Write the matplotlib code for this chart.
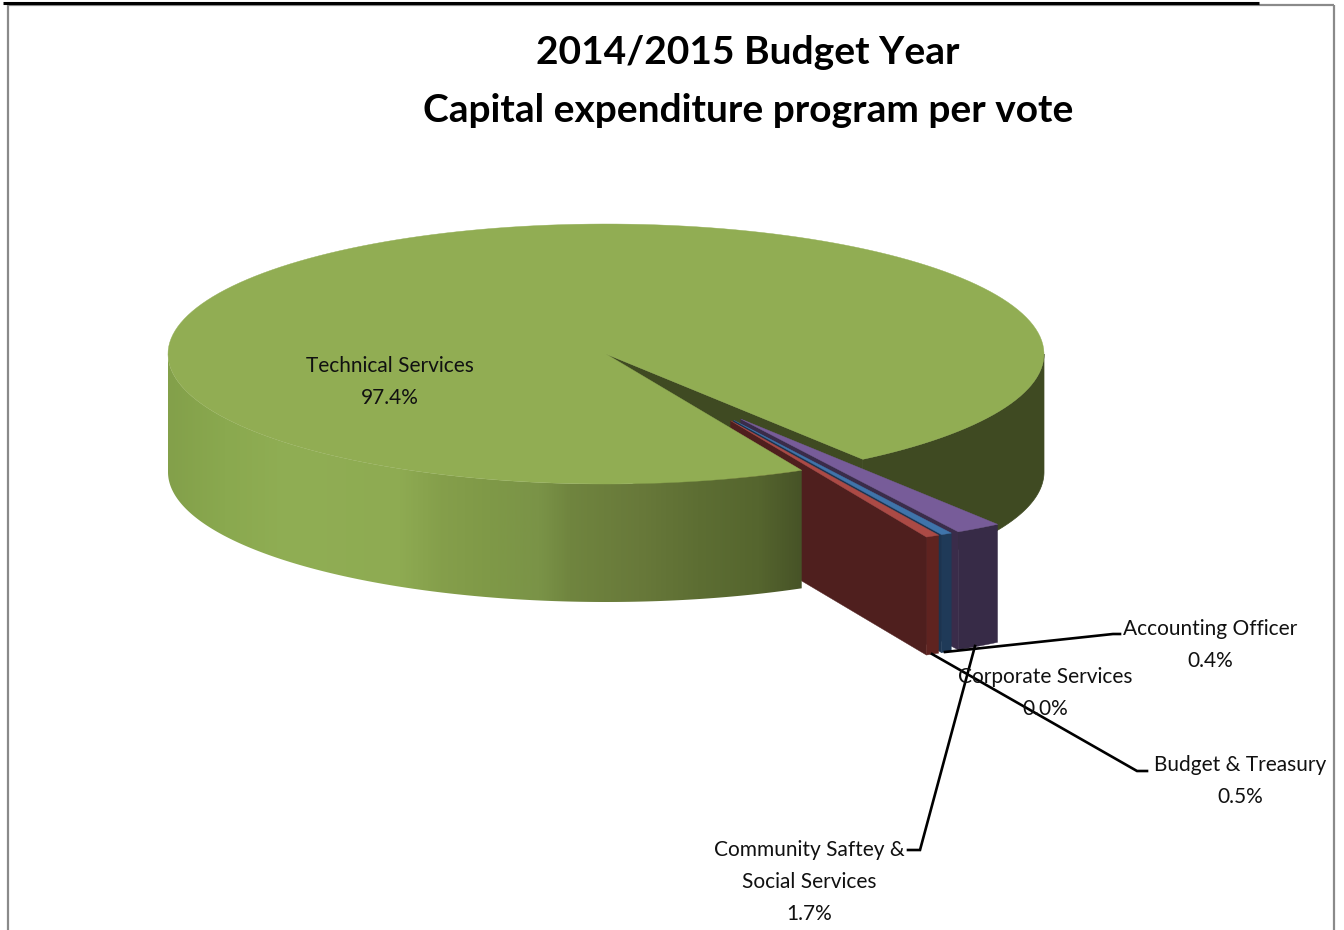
import matplotlib
matplotlib.use('Agg')
import matplotlib.pyplot as plt
import numpy as np
from matplotlib.colors import LinearSegmentedColormap
from matplotlib.patches import Polygon

plt.rcParams['font.family'] = ['Lato', 'DejaVu Sans']

# clockwise from the top edge of the notch
names = ['Community Saftey &\nSocial Services', 'Corporate Services', 'Accounting Officer',
         'Budget & Treasury', 'Technical Services']
shares = [1.7, 0.0, 0.4, 0.5, 97.4]
top_colors = ['#775c99', '#4a7ebb', '#3f74aa', '#ab4a45', '#91ad53']
rim_colors = ['#372b47', '#1f3a58', '#1f3a58', '#5f2320', '#3f4a22']
wall_colors = ['#3a2c4a', '#1c3450', '#1c3450', '#4f1f1e', '#3f4a22']

label_pos = [(809, 881), (1045, 692), (1210, 644), (1240, 780), (390, 381)]

title_lines = ['2014/2015 Budget Year', 'Capital expenditure program per vote']

# shading along the front of the big slice
rim_x = [168, 225, 290, 400, 440, 490, 540, 570, 640, 700, 760, 802]
rim_shades = ['#83a04a', '#8aa94f', '#90ae54', '#8eab52', '#859f4b', '#7f9947',
              '#7a9347', '#70853f', '#68793a', '#5d6e33', '#55652e', '#475327']

cx, cy = 606, 354
rx, ry = 438, 130
depth = 118
start_angle = -54.1
explode = 0.587


def project(angle, radius=1.0, ox=0.0, oy=0.0):
    a = np.deg2rad(angle)
    return cx + ox + rx * radius * np.cos(a), cy + oy - ry * radius * np.sin(a)


def arc(a0, a1, ox=0.0, oy=0.0, drop=0):
    t = np.linspace(a0, a1, 200)
    x, y = project(t, 1.0, ox, oy)
    return np.column_stack([x, y + drop])


def side_band(a0, a1, ox=0.0, oy=0.0):
    return np.vstack([arc(a0, a1, ox, oy), arc(a1, a0, ox, oy, depth)])


fig = plt.figure(figsize=(13.44, 9.30), dpi=100)
ax = fig.add_axes([0, 0, 1, 1])

# page frame
ax.plot([8, 8], [5, 930], color='#8a8a8a', lw=1.6, solid_capstyle='butt')
ax.plot([8, 1334], [5.5, 5.5], color='#8a8a8a', lw=1.6, solid_capstyle='butt')
ax.plot([1333.5, 1333.5], [5, 930], color='#8a8a8a', lw=1.6, solid_capstyle='butt')
ax.plot([3, 1259], [3, 3], color='black', lw=2.2, solid_capstyle='butt')

angles = start_angle - np.cumsum([0] + shares) * 3.6
green_start = angles[4]
green_end = angles[5]

# far wall of the notch and the dark stretch of the rim
apex = (cx, cy)
corner = project(start_angle)
ax.add_patch(Polygon([apex, corner, (corner[0], corner[1] + depth), (cx, cy + depth)],
                     closed=True, fc=wall_colors[4], ec=wall_colors[4], lw=0.5, zorder=2))
ax.add_patch(Polygon(side_band(start_angle, 0), closed=True, fc=rim_colors[4],
                     ec=rim_colors[4], lw=0.5, zorder=2))

# pulled-out slices: cut faces sit behind the big slice
pieces = []
for i in range(4):
    a0, a1 = angles[i], angles[i + 1]
    if a0 == a1:
        continue
    mid = (a0 + a1) / 2
    # the pull directions fan out less than the slice bisectors
    pull = np.deg2rad(-59.7 + 0.48 * (mid + 59.86))
    ox = rx * explode * np.cos(pull)
    oy = -ry * explode * np.sin(pull)
    pieces.append((i, a0, a1, ox, oy))
    p = project(a1, 1.0, ox, oy)
    tip = (cx + ox, cy + oy)
    ax.add_patch(Polygon([tip, p, (p[0], p[1] + depth), (tip[0], tip[1] + depth)],
                         closed=True, fc=wall_colors[i], ec=wall_colors[i], lw=0.3, zorder=3))

# big slice: shaded front rim then top face
cmap = LinearSegmentedColormap.from_list(
    'rim', [((x - rim_x[0]) / (rim_x[-1] - rim_x[0]), c) for x, c in zip(rim_x, rim_shades)])
front = Polygon(side_band(-180, green_start), closed=True, fc='none', ec='none', zorder=4)
ax.add_patch(front)
im = ax.imshow(np.linspace(0, 1, 512).reshape(1, -1), cmap=cmap, aspect='auto', zorder=4,
               extent=(rim_x[0], rim_x[-1], 930, 0))
im.set_clip_path(front)

top = np.vstack([[apex], arc(green_start, green_end)])
ax.add_patch(Polygon(top, closed=True, fc=top_colors[4], ec=top_colors[4], lw=0.3, zorder=5))

# rims and top faces of the pulled-out slices
for i, a0, a1, ox, oy in pieces:
    ax.add_patch(Polygon(side_band(a0, a1, ox, oy), closed=True, fc=rim_colors[i],
                         ec=rim_colors[i], lw=0.3, zorder=6))
    ax.add_patch(Polygon(np.vstack([[(cx + ox, cy + oy)], arc(a0, a1, ox, oy)]), closed=True,
                         fc=top_colors[i], ec=top_colors[i], lw=0.3, zorder=6))

# leader lines
leaders = [([945, 1113, 1120], [652, 634, 634]),
           ([932, 1137, 1147], [654, 771, 771]),
           ([975, 920, 908], [646, 850, 850])]
for lx, ly in leaders:
    ax.plot(lx, ly, color='black', lw=1.9, zorder=7, solid_joinstyle='miter')

for name, share, (tx, ty) in zip(names, shares, label_pos):
    ax.text(tx, ty + 1, f'{name}\n{share:.1f}%', ha='center', va='center', fontsize=15,
            linespacing=1.76, color='#111111', zorder=8)

ax.text(748, 53, title_lines[0], ha='center', va='center', fontsize=28, fontweight='bold', color='black')
ax.text(748, 110, title_lines[1], ha='center', va='center', fontsize=28, fontweight='bold', color='black')

ax.set_xlim(0, 1344)
ax.set_ylim(930, 0)
ax.axis('off')

fig.savefig('out.png', dpi=100, facecolor='white')
